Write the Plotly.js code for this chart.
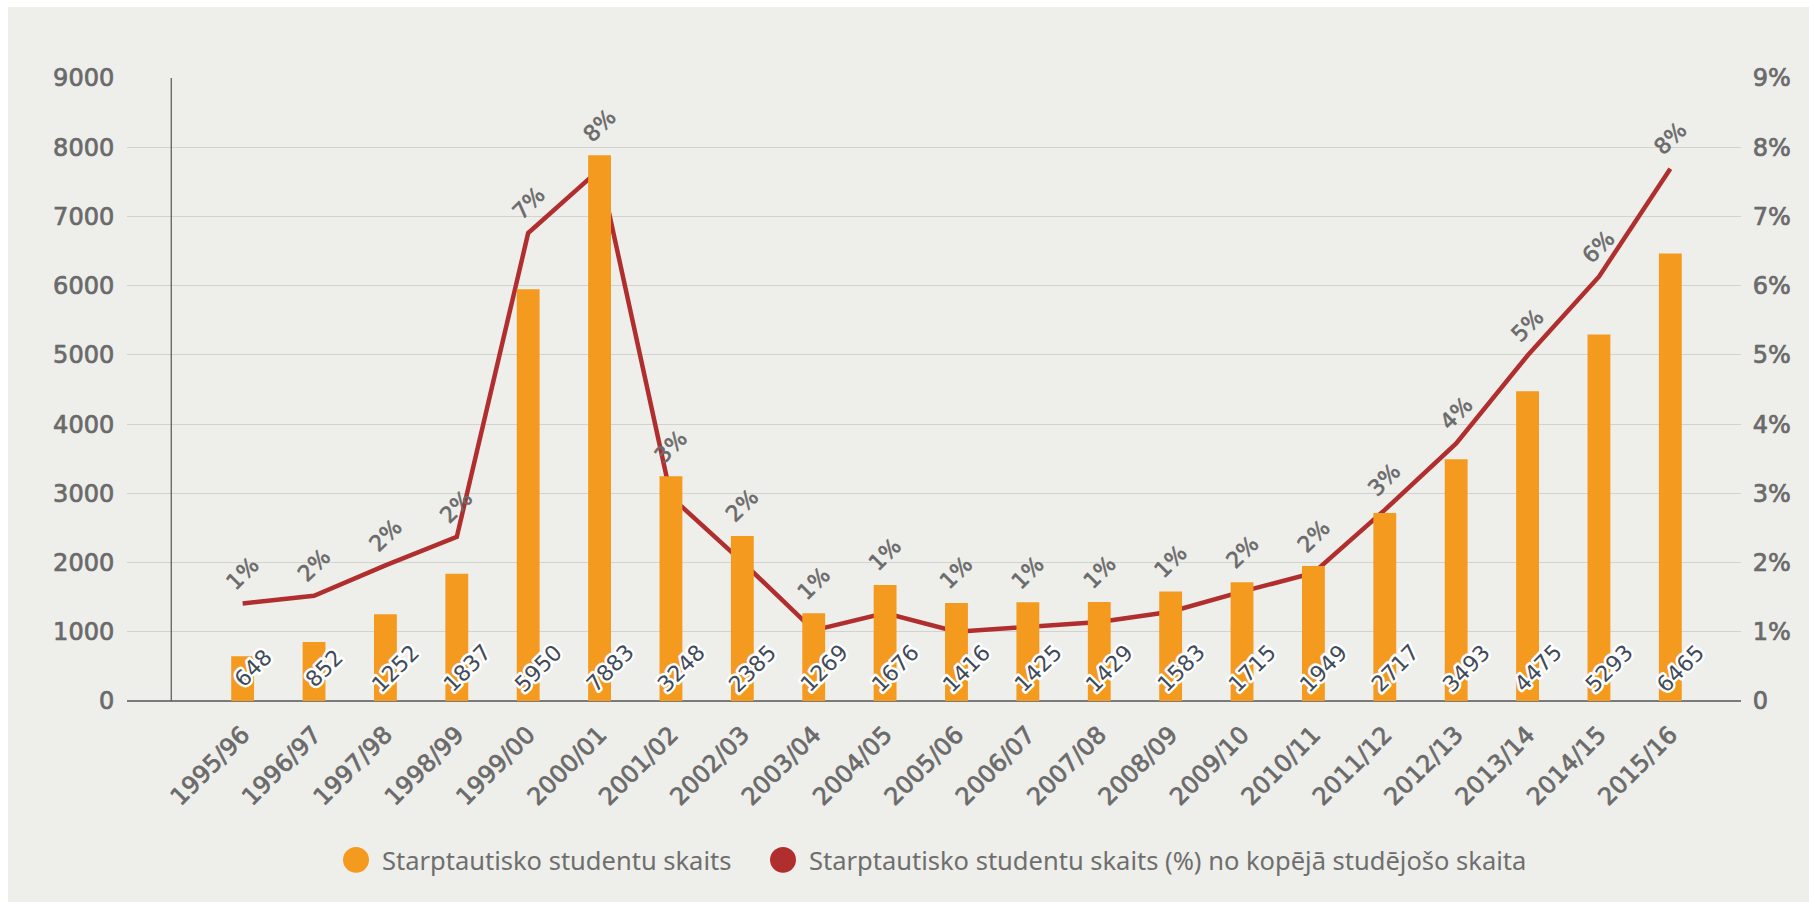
<!DOCTYPE html>
<html>
<head>
<meta charset="utf-8">
<script src="https://cdn.plot.ly/plotly-3.0.1.min.js"></script>
<style>
  html, body { margin: 0; padding: 0; background: #ffffff; }
  #panel { position: absolute; left: 8px; top: 7px; width: 1801px; height: 895px; background: #eeeeeb; }
  #chart { position: absolute; left: 0; top: 0; width: 1809px; height: 909px; }
  #chart .xtick text, #chart .ytick text, #chart .y2tick text {
    stroke: #6a6a6a; stroke-width: 0.7px; stroke-linejoin: round;
  }
</style>
</head>
<body>
<div id="panel"></div>
<div id="chart"></div>
<script>
// ---- data ----
const categories = ['1995/96','1996/97','1997/98','1998/99','1999/00','2000/01','2001/02','2002/03','2003/04','2004/05','2005/06','2006/07','2007/08','2008/09','2009/10','2010/11','2011/12','2012/13','2013/14','2014/15','2015/16'];
const studentCount = [648, 852, 1252, 1837, 5950, 7883, 3248, 2385, 1269, 1676, 1416, 1425, 1429, 1583, 1715, 1949, 2717, 3493, 4475, 5293, 6465];
const studentShare = [1.41, 1.52, 1.96, 2.37, 6.76, 7.68, 2.95, 2.01, 1.02, 1.27, 1.00, 1.07, 1.14, 1.29, 1.58, 1.85, 2.76, 3.72, 4.99, 6.13, 7.69];
const shareLabels = ['1%','2%','2%','2%','7%','8%','3%','2%','1%','1%','1%','1%','1%','1%','2%','2%','3%','4%','5%','6%','8%'];
const countTicks = [0,1000,2000,3000,4000,5000,6000,7000,8000,9000];
const shareTicks = [0,1,2,3,4,5,6,7,8,9];
const shareTickText = ['0','1%','2%','3%','4%','5%','6%','7%','8%','9%'];
const seriesNames = ['Starptautisko studentu skaits', 'Starptautisko studentu skaits (%) no kopējā studējošo skaita'];

// ---- axes ranges ----
const COUNT_MAX = 9000, SHARE_MAX = 9;

// ---- style ----
const ORANGE = '#f39a1f';
const RED = '#b02f2e';
const TICK_FONT = {family: 'DejaVu Sans', size: 24, color: '#6a6a6a'};

// plot area in pixels (layout only)
const W = 1809, H = 909;
const PL = 127, PR = 1741, PT = 77.5, PB = 701;
const px2x = p => (p - PL) / (PR - PL);
const py2y = p => (PB - p) / (PB - PT);

const traces = [
  {
    type: 'scatter', mode: 'lines', name: seriesNames[1],
    x: categories, y: studentShare, yaxis: 'y',
    line: {color: RED, width: 4.5}, showlegend: false, hoverinfo: 'skip'
  },
  {
    type: 'bar', name: seriesNames[0],
    x: categories, y: studentCount, yaxis: 'y2',
    marker: {color: ORANGE}, showlegend: false, hoverinfo: 'skip'
  }
];

const annotations = [];
// count labels (first, indices 0..n-1)
categories.forEach((c, i) => {
  annotations.push({
    x: c, y: 0, xref: 'x', yref: 'y2', text: String(studentCount[i]),
    showarrow: false, textangle: -45, xshift: 10, yshift: 33,
    font: {family: 'DejaVu Sans', size: 22, color: '#3f4a5a'}
  });
});
// share labels: placed above whichever is higher, the line point or the bar top
categories.forEach((c, i) => {
  const barTopOnShareAxis = studentCount[i] * SHARE_MAX / COUNT_MAX;
  annotations.push({
    x: c, y: Math.max(studentShare[i], barTopOnShareAxis), xref: 'x', yref: 'y', text: shareLabels[i],
    showarrow: false, textangle: -45, xshift: 0, yshift: 30,
    font: {family: 'DejaVu Sans', size: 22, color: '#6a6a6a'}
  });
});
// legend texts
annotations.push({
  xref: 'paper', yref: 'paper', x: px2x(380), y: py2y(860), xanchor: 'left', yanchor: 'middle',
  text: seriesNames[0], showarrow: false,
  font: {family: 'Noto Sans', size: 25.5, color: '#6e6e6e'}
});
annotations.push({
  xref: 'paper', yref: 'paper', x: px2x(807), y: py2y(860), xanchor: 'left', yanchor: 'middle',
  text: seriesNames[1], showarrow: false,
  font: {family: 'Noto Sans', size: 25.5, color: '#6e6e6e'}
});

const shapes = [
  // vertical axis line
  {type: 'line', xref: 'x', yref: 'y', x0: -1, x1: -1, y0: 0, y1: SHARE_MAX, line: {color: '#555555', width: 1.2}, layer: 'above'},
  // legend circles
  {type: 'circle', xref: 'paper', yref: 'paper', x0: px2x(343), x1: px2x(369), y0: py2y(873), y1: py2y(847), fillcolor: ORANGE, line: {width: 0}},
  {type: 'circle', xref: 'paper', yref: 'paper', x0: px2x(770), x1: px2x(796), y0: py2y(873), y1: py2y(847), fillcolor: RED, line: {width: 0}}
];

const layout = {
  width: W, height: H,
  margin: {l: PL, r: W - PR, t: PT, b: H - PB, pad: 0},
  paper_bgcolor: 'rgba(0,0,0,0)', plot_bgcolor: 'rgba(0,0,0,0)',
  showlegend: false,
  bargap: 0.68,
  xaxis: {
    type: 'category', range: [-1.62, 20.99], tickangle: -45,
    showgrid: false, showline: false, zeroline: false,
    ticks: 'outside', ticklen: 9, tickcolor: 'rgba(0,0,0,0)',
    tickfont: TICK_FONT, fixedrange: true
  },
  yaxis: {
    side: 'right', range: [0, SHARE_MAX], tickvals: shareTicks, ticktext: shareTickText,
    showgrid: true, gridcolor: '#d2d2ce', gridwidth: 1,
    zeroline: true, zerolinecolor: '#7a7a7a', zerolinewidth: 1.6,
    showline: false, ticks: 'outside', ticklen: 6, tickcolor: 'rgba(0,0,0,0)',
    tickfont: TICK_FONT, fixedrange: true
  },
  yaxis2: {
    overlaying: 'y', side: 'left', range: [0, COUNT_MAX], tickvals: countTicks,
    showgrid: false, zeroline: false, showline: false,
    ticks: 'outside', ticklen: 7, tickcolor: 'rgba(0,0,0,0)',
    tickfont: TICK_FONT, fixedrange: true
  },
  annotations: annotations,
  shapes: shapes
};

Plotly.newPlot('chart', traces, layout, {displayModeBar: false, staticPlot: true}).then(gd => {
  const n = categories.length;
  gd.querySelectorAll('g.annotation').forEach(g => {
    const idx = +g.getAttribute('data-index');
    const t = g.querySelector('text.annotation-text');
    if (!t) return;
    if (idx < n) {
      t.style.stroke = '#ffffff'; t.style.strokeWidth = '5px';
      t.style.paintOrder = 'stroke'; t.style.strokeLinejoin = 'round';
    } else if (idx < 2 * n) {
      t.style.stroke = '#6a6a6a'; t.style.strokeWidth = '0.6px';
      t.style.strokeLinejoin = 'round';
    }
  });
});
</script>
</body>
</html>
